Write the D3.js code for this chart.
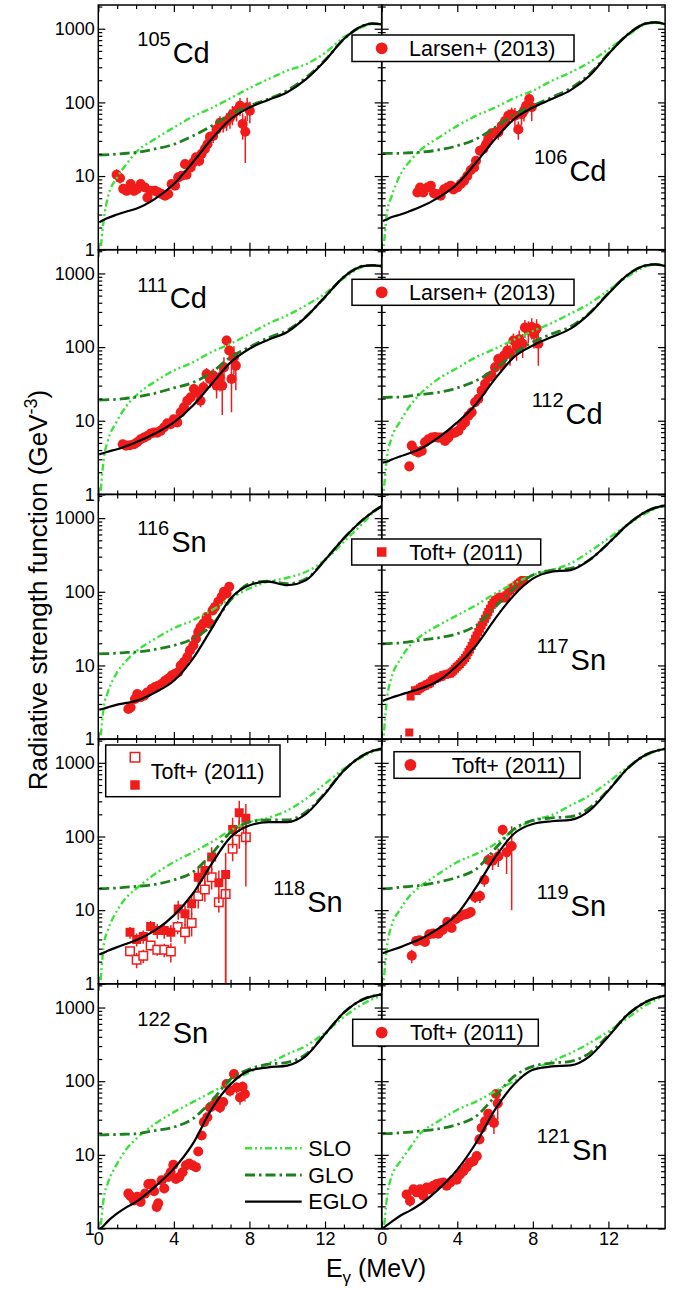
<!DOCTYPE html>
<html>
<head>
<meta charset="utf-8">
<script src="https://cdn.jsdelivr.net/npm/d3@7"></script>
<style>
body { margin: 0; background: #fff; }
svg { font-family: "Liberation Sans", Arial, sans-serif; }
</style>
</head>
<body>
<svg id="chart" width="683" height="1289"></svg>
<script>
const gridE = [0.05, 0.3, 0.5, 1, 1.5, 2, 3, 4, 5, 6, 7, 8, 9, 10, 11, 12, 13, 14, 14.5, 15];

// model curves, GeV^-3, one value per gridE point
const slo105Cd  = [0.6, 2.7, 5.1, 9.6, 14.6, 21, 31.8, 45.7, 64, 84, 114, 156, 207, 270, 331, 470, 770, 1060, 1170, 1140];
const glo105Cd  = [19.3, 19.4, 19.5, 19.9, 20.4, 21, 23.3, 27, 35, 48, 69, 90, 111, 145, 218, 375, 724, 1097, 1175, 1150];
const eglo105Cd = [2.35, 2.55, 2.7, 3.0, 3.3, 3.6, 4.9, 7.8, 15.3, 31.8, 59, 85, 108, 137, 207, 368, 724, 1097, 1175, 1150];

const slo106Cd  = [0.7, 3.4, 5.1, 10.6, 16, 22, 33, 48, 66, 85, 114, 144, 196, 256, 350, 530, 800, 1160, 1200, 1150];
const glo106Cd  = [20.3, 20.3, 20.3, 20.4, 20.7, 21, 22.6, 25.8, 31.8, 45.7, 68, 90, 117, 156, 242, 460, 828, 1180, 1220, 1150];
const eglo106Cd = [2.45, 2.6, 2.75, 3.0, 3.35, 3.76, 5.1, 7.8, 15.3, 31.8, 59, 85, 111, 147, 230, 453, 828, 1180, 1220, 1150];

const slo111Cd  = [0.6, 3.2, 5.3, 10, 16, 22, 34, 48, 62, 86, 111, 151, 208, 270, 370, 533, 860, 1230, 1290, 1260];
const glo111Cd  = [19.1, 19.2, 19.3, 19.5, 20.2, 21, 23.6, 27.9, 33, 45.5, 73, 100, 134, 169, 260, 480, 900, 1260, 1290, 1260];
const eglo111Cd = [3.5, 3.65, 3.8, 4.1, 4.55, 5.1, 6.7, 9.5, 16, 31.6, 62, 95, 126, 160, 257, 480, 900, 1260, 1290, 1260];

const slo112Cd  = [0.7, 3.5, 5.6, 10, 16, 22.6, 37, 52, 73, 95, 126, 165, 212, 285, 390, 590, 900, 1250, 1320, 1260];
const glo112Cd  = [20.8, 20.8, 20.9, 21, 21.7, 22.6, 24.3, 27.9, 35, 50.6, 81, 117, 151, 190, 290, 540, 950, 1290, 1330, 1260];
const eglo112Cd = [2.7, 2.8, 2.95, 3.3, 3.65, 4.1, 5.9, 9.5, 16.9, 37, 73, 105, 137, 178, 285, 533, 950, 1290, 1330, 1260];

const slo116Sn  = [0.6, 2.85, 4.3, 8.1, 11.7, 15.5, 23, 32, 41, 56, 81, 111, 137, 155, 187, 270, 480, 850, 1150, 1450];
const glo116Sn  = [14.4, 14.5, 14.5, 14.7, 15, 15.2, 16.5, 18.7, 23, 35, 77, 129, 140, 129, 150, 271, 533, 950, 1200, 1450];
const eglo116Sn = [2.5, 2.6, 2.7, 2.94, 3.1, 3.3, 4.3, 6.2, 12.3, 31.6, 81, 123, 137, 123, 144, 271, 533, 950, 1200, 1450];

const slo117Sn  = [0.7, 3.9, 6.6, 12.3, 18.7, 24.3, 35, 48, 66, 95, 129, 169, 197, 243, 351, 533, 810, 1170, 1350, 1450];
const glo117Sn  = [19.7, 19.8, 19.9, 20.2, 21, 21.9, 23.7, 27, 35, 62, 111, 169, 197, 208, 271, 457, 810, 1230, 1390, 1490];
const eglo117Sn = [3.3, 3.5, 3.65, 4.0, 4.4, 4.8, 6.2, 10, 18.7, 43, 90, 151, 187, 197, 271, 457, 810, 1230, 1390, 1490];

const slo118Sn  = [0.6, 3.5, 5.3, 9.9, 15, 19.5, 31, 45, 61, 84, 121, 157, 179, 225, 325, 519, 830, 1210, 1400, 1550];
const glo118Sn  = [19.5, 19.6, 19.7, 20, 20.5, 21, 22.3, 25.8, 32.8, 58, 114, 157, 168, 168, 215, 390, 787, 1260, 1450, 1550];
const eglo118Sn = [2.5, 2.65, 2.8, 3.15, 3.5, 3.9, 5.3, 8.5, 16.7, 42.6, 98, 141, 157, 157, 203, 380, 787, 1260, 1450, 1550];

const slo119Sn  = [0.7, 3.5, 5.9, 10.4, 15.8, 20.5, 31, 45, 58, 79, 121, 165, 195, 264, 360, 550, 870, 1260, 1430, 1550];
const glo119Sn  = [19.5, 19.6, 19.8, 20.5, 21, 21.6, 24, 28, 36, 68, 126, 165, 179, 186, 245, 430, 830, 1300, 1450, 1550];
const eglo119Sn = [2.6, 2.75, 2.85, 3.15, 3.55, 4.0, 5.6, 8.9, 20.5, 52, 109, 148, 161, 168, 225, 420, 830, 1300, 1450, 1550];

const slo122Sn  = [0.6, 2.7, 4.1, 7.6, 12.1, 16.5, 26.3, 38, 52, 71, 97, 132, 174, 233, 302, 458, 746, 1120, 1300, 1440];
const glo122Sn  = [18.7, 18.7, 18.8, 18.9, 19.1, 19.3, 21.4, 23.8, 30.9, 54, 107, 146, 170, 180, 233, 436, 855, 1290, 1420, 1510];
const eglo122Sn = [0.97, 1.1, 1.25, 1.6, 1.95, 2.3, 3.7, 6.5, 14.1, 42, 91, 139, 154, 163, 221, 436, 855, 1290, 1420, 1510];

const slo121Sn  = [0.6, 2.9, 4.9, 8.2, 12.5, 18.9, 28.6, 41, 53, 73, 100, 143, 186, 241, 329, 473, 716, 1085, 1270, 1450];
const glo121Sn  = [19.3, 19.4, 19.5, 19.9, 20.4, 21, 22.5, 25.8, 33.5, 62, 116, 159, 176, 186, 241, 420, 795, 1200, 1350, 1450];
const eglo121Sn = [1.0, 1.12, 1.22, 1.5, 1.75, 2.1, 3.4, 6.3, 14.6, 41, 90, 143, 159, 164, 217, 405, 795, 1200, 1350, 1450];

// measured points: [E (MeV), f (GeV^-3), error]
const larsen105Cd = [[0.97,10.4,2],[1.15,9.4,1.5],[1.32,6.7,1],[1.5,6.3,0.8],[1.71,7.8,1],[1.89,6.3,0.8],[2.06,6.7,0.8],[2.24,7.8,0.9],[2.47,7.0,0.8],[2.6,5.1,0.6],[2.77,6.3,0.7],[3.0,6.3,0.7],[3.17,6.0,0.7],[3.35,5.7,0.6],[3.53,5.4,0.6],[3.7,5.7,0.6],[3.88,7.8,0.8],[4.06,7.4,0.8],[4.23,9.6,1],[4.41,10.1,1.2],[4.59,14.5,1.8],[4.67,10.4,1.3],[4.89,13.1,1.8],[5.03,15.3,2],[5.17,17.9,2.5],[5.34,16.1,2.5],[5.47,20,3],[5.64,23.3,4],[5.78,27,5],[5.91,34,6],[6.08,35,7],[6.26,43,9],[6.44,53,12],[6.61,51,12],[6.79,56,15],[6.97,62,18],[7.1,69,20],[7.32,77,22],[7.5,90,25],[7.64,51,20],[7.78,40,25],[7.88,86,30],[8.02,77,25]];
const larsen106Cd = [[1.89,6.0,0.8],[2.03,7.0,0.9],[2.2,6.0,0.7],[2.42,7.0,0.8],[2.6,7.4,0.8],[2.77,5.8,0.6],[2.91,5.7,0.6],[3.12,5.4,0.6],[3.3,6.6,0.7],[3.47,7.0,0.7],[3.65,7.4,0.8],[3.79,6.6,0.7],[4.0,7.0,0.8],[4.18,7.8,0.9],[4.36,8.6,1],[4.53,10,1.2],[4.71,12,1.5],[4.89,13.1,1.7],[4.99,16.1,2],[5.2,22,3],[5.38,23.3,3],[5.52,27,4],[5.64,31.8,5],[5.82,38,6],[6.0,39,7],[6.17,39,8],[6.35,48,10],[6.53,56,12],[6.7,66,14],[6.88,69,16],[7.05,66,18],[7.23,43,12],[7.4,69,20],[7.53,77,22],[7.64,90,25],[7.81,111,30],[7.94,86,30]];
const larsen111Cd = [[1.29,4.8,0.5],[1.46,4.6,0.5],[1.68,4.65,0.5],[1.89,4.8,0.5],[2.06,5.1,0.5],[2.24,5.6,0.6],[2.42,5.9,0.6],[2.59,6.2,0.6],[2.77,6.7,0.7],[2.95,6.9,0.7],[3.12,6.9,0.7],[3.3,7.3,0.8],[3.47,8.1,0.9],[3.65,9.2,1],[3.83,9.0,1],[4.0,10.5,1.2],[4.18,9.5,1.2],[4.36,13,1.6],[4.53,15.2,2],[4.71,18.7,2.5],[4.89,20.8,3],[5.06,27,4],[5.24,24.3,4],[5.41,18.7,3.5],[5.56,28.4,6],[5.73,43,9],[5.91,37,9],[6.08,41,10],[6.26,30,10],[6.44,39,14],[6.56,30,18],[6.65,53,20],[6.79,123,20],[6.93,90,25],[7.05,37,24],[7.18,73,30],[7.28,56,30]];
const larsen112Cd = [[1.46,2.4,0.3],[1.59,4.6,0.5],[1.76,3.9,0.4],[1.94,3.7,0.4],[2.12,3.9,0.4],[2.29,5.1,0.5],[2.47,5.6,0.5],[2.65,5.9,0.6],[2.82,6.0,0.6],[3.0,5.9,0.6],[3.17,5.9,0.6],[3.35,5.3,0.6],[3.53,5.9,0.6],[3.7,6.7,0.7],[3.88,6.9,0.8],[4.06,7.3,0.8],[4.23,8.5,1],[4.41,9.5,1.1],[4.59,11.7,1.4],[4.76,13,1.6],[4.94,17.8,2.2],[5.11,19.8,2.5],[5.29,25.6,3.5],[5.47,31.6,4.5],[5.64,39,6],[5.82,41,7],[6.0,53,9],[6.17,69,12],[6.31,60,14],[6.47,77,18],[6.65,90,22],[6.79,81,25],[6.97,123,30],[7.14,100,35],[7.28,128,40],[7.46,111,40],[7.58,184,50],[7.76,169,55],[7.94,187,60],[8.06,151,55],[8.2,178,60],[8.29,111,55]];
const toft116Sn = [[1.59,2.56,0.2],[1.71,2.7,0.2],[1.94,3.5,0.3],[2.06,4.1,0.3],[2.24,3.7,0.3],[2.42,3.9,0.3],[2.59,4.3,0.3],[2.82,4.8,0.4],[3.0,5.1,0.4],[3.17,5.3,0.4],[3.35,5.6,0.4],[3.53,6.2,0.5],[3.7,6.6,0.5],[3.88,7.3,0.5],[4.06,7.7,0.6],[4.23,8.1,0.6],[4.36,10,0.8],[4.53,11.1,0.9],[4.71,13,1],[4.85,16,1.2],[5.03,18.7,1.5],[5.17,23,2],[5.29,28.4,2.5],[5.41,33,3],[5.56,37,3.5],[5.73,45.5,4],[5.91,37,4],[6.05,56,5],[6.17,62,6],[6.35,73,7],[6.53,86,8],[6.65,100,9],[6.79,95,9],[6.93,117,11]];
const toft117Sn = [[1.46,1.23,0.1],[1.53,3.8,0.3],[1.76,4.6,0.3],[1.85,4.5,0.3],[1.94,4.7,0.3],[2.03,4.9,0.3],[2.12,5.1,0.4],[2.2,5.2,0.4],[2.29,5.3,0.4],[2.38,5.5,0.4],[2.47,5.6,0.4],[2.56,5.8,0.4],[2.65,6.2,0.4],[2.73,6.5,0.5],[2.82,6.6,0.5],[2.91,6.7,0.5],[3.0,6.9,0.5],[3.09,7.0,0.5],[3.17,7.1,0.5],[3.26,7.4,0.5],[3.35,7.5,0.5],[3.44,7.6,0.5],[3.53,7.7,0.5],[3.62,7.8,0.5],[3.7,8.1,0.6],[3.79,8.5,0.6],[3.88,9.0,0.6],[3.97,9.5,0.7],[4.06,10,0.7],[4.14,10.5,0.7],[4.23,11.1,0.8],[4.32,11.8,0.8],[4.41,12.6,0.9],[4.5,13.8,1],[4.59,15.2,1.1],[4.67,16.5,1.2],[4.76,18.3,1.3],[4.85,20.5,1.5],[4.94,23,1.6],[5.02,25.5,1.8],[5.11,28.4,2],[5.2,31.5,2.2],[5.29,35,2.5],[5.38,39,2.8],[5.47,43,3],[5.56,48,3.5],[5.64,53,4],[5.73,59,4.5],[5.82,66,5],[5.91,71,5.5],[6.0,77,6],[6.08,78,6],[6.17,81,6],[6.26,84,7],[6.35,86,7],[6.44,84,7],[6.53,81,7],[6.61,90,8],[6.7,100,8],[6.79,105,9],[6.88,111,9],[6.97,114,10],[7.05,117,10],[7.14,123,11],[7.23,129,11],[7.32,134,12],[7.4,139,12],[7.47,142,13],[7.53,144,13]];
const toft118SnFilled = [[1.68,5.0,0.9],[2.03,4.0,0.8],[2.38,4.4,0.9],[2.77,6.0,1.1],[3.12,5.3,1.2],[3.49,5.3,1.2],[3.84,5.0,1.3],[4.23,10.4,3],[4.59,8.9,2.7],[4.94,12.2,3.6],[5.29,28,10],[5.64,34.5,13],[6.0,52.5,19],[6.38,23.5,11],[6.74,30.5,29.6],[7.11,124,55],[7.46,210,95],[7.81,177,100]];
const toft118SnOpen = [[1.68,2.77,0.4],[2.03,2.12,0.5],[2.38,2.4,0.5],[2.77,3.3,0.5],[3.12,2.9,0.5],[3.49,2.9,0.6],[3.84,2.75,0.8],[4.2,5.9,1.2],[4.59,5.0,1.5],[4.94,6.7,2.3],[5.29,15.5,5],[5.64,19,6],[6.0,28,9],[6.38,12.8,3.5],[6.74,16.6,15.6],[7.11,68,22],[7.46,118,50],[7.81,98,77]];
const toft119Sn = [[1.59,2.4,0.5],[1.82,3.8,0.4],[2.0,3.9,0.4],[2.29,3.7,0.4],[2.52,4.7,0.5],[2.73,4.8,0.5],[3.0,4.8,0.5],[3.23,5.4,0.6],[3.47,6.9,0.7],[3.7,5.75,0.7],[3.93,7.6,0.9],[4.14,8.2,1],[4.36,8.7,1.1],[4.53,8.9,1.2],[4.71,9.4,1.4],[4.94,15,2.5],[5.2,15.5,3],[5.43,25.8,5],[5.64,48,10],[5.87,47,12],[6.17,53.5,15],[6.4,123,20],[6.61,61,30],[6.88,74,64]];
const toft122Sn = [[1.59,2.98,0.3],[1.71,2.74,0.3],[1.89,2.4,0.3],[2.06,2.7,0.3],[2.24,2.3,0.3],[2.47,2.98,0.3],[2.65,4.0,0.4],[2.82,4.06,0.4],[2.95,3.2,0.4],[3.09,1.96,0.3],[3.17,2.2,0.3],[3.35,4.5,0.5],[3.49,3.5,0.5],[3.7,5.0,0.5],[3.83,5.8,0.6],[3.97,7.3,0.7],[4.11,4.7,0.5],[4.29,5.0,0.6],[4.46,5.8,0.7],[4.64,7.2,0.8],[4.81,7.6,0.9],[4.99,7.2,0.9],[5.17,6.8,0.9],[5.29,11.1,1.3],[5.47,18.3,2],[5.59,27.8,3],[5.77,32.4,4],[5.91,44,5],[6.08,46.6,6],[6.26,54.5,7],[6.44,44,7],[6.61,52,8],[6.79,91.6,12],[6.97,74,12],[7.18,125,15],[7.32,82,14],[7.5,60,12],[7.64,84,15],[7.76,67,14]];
const toft121Sn = [[1.32,2.9,0.4],[1.5,2.37,0.4],[1.68,3.4,0.4],[1.85,3.1,0.4],[2.03,3.4,0.4],[2.2,2.8,0.4],[2.38,3.6,0.4],[2.56,3.4,0.4],[2.73,3.8,0.4],[2.91,4.0,0.4],[3.09,4.1,0.4],[3.26,4.2,0.4],[3.44,3.8,0.4],[3.62,4.2,0.5],[3.79,4.6,0.5],[3.97,4.6,0.5],[4.14,5.4,0.6],[4.32,6.0,0.7],[4.5,6.8,0.8],[4.67,7.8,0.9],[4.85,8.2,1],[5.03,9.6,1.2],[5.17,16.2,2],[5.29,23.2,3],[5.47,28.6,4],[5.64,36,5],[5.77,30,6],[5.94,27.2,8],[6.05,67,8],[6.14,50,20]];

const yMajor = [1, 10, 100, 1000];
const xMajor = [0, 4, 8, 12];
const modelNames = ["SLO", "GLO", "EGLO"];

// layout
const X0 = [98.3, 381.7], PW = 283.4, TOP = 5, PH = 244.7, Y_MAX = 2100;
const RED = "#f01c1c";
const lineStyle = {
  slo:  {color: "#3ce23c", width: 2.4, dash: "7,3,2,3,2,3"},
  glo:  {color: "#1f801f", width: 2.8, dash: "10,4,2.5,4"},
  eglo: {color: "#000",    width: 2.2, dash: null}
};

const circle = {shape: d3.symbolCircle, size: 80, open: false};
const square = {shape: d3.symbolSquare, size: 64, open: false};
const squareBig = {shape: d3.symbolSquare, size: 81, open: false};
const squareOpen = {shape: d3.symbolSquare, size: 72, open: true};

const panels = [
  {mass:"105", el:"Cd", row:0, col:0, lx:39,    ly:57.7,  slo:slo105Cd, glo:glo105Cd, eglo:eglo105Cd, sets:[[larsen105Cd, circle]]},
  {mass:"106", el:"Cd", row:0, col:1, lx:152.3, ly:175.7, slo:slo106Cd, glo:glo106Cd, eglo:eglo106Cd, sets:[[larsen106Cd, circle]]},
  {mass:"111", el:"Cd", row:1, col:0, lx:39,    ly:58.6,  slo:slo111Cd, glo:glo111Cd, eglo:eglo111Cd, sets:[[larsen111Cd, circle]]},
  {mass:"112", el:"Cd", row:1, col:1, lx:150,   ly:174.3, slo:slo112Cd, glo:glo112Cd, eglo:eglo112Cd, sets:[[larsen112Cd, circle]]},
  {mass:"116", el:"Sn", row:2, col:0, lx:39,    ly:57.3,  slo:slo116Sn, glo:glo116Sn, eglo:eglo116Sn, sets:[[toft116Sn, circle]]},
  {mass:"117", el:"Sn", row:2, col:1, lx:155,   ly:175.6, slo:slo117Sn, glo:glo117Sn, eglo:eglo117Sn, sets:[[toft117Sn, square]]},
  {mass:"118", el:"Sn", row:3, col:0, lx:175,   ly:172.6, slo:slo118Sn, glo:glo118Sn, eglo:eglo118Sn, sets:[[toft118SnOpen, squareOpen], [toft118SnFilled, squareBig]]},
  {mass:"119", el:"Sn", row:3, col:1, lx:155,   ly:176.6, slo:slo119Sn, glo:glo119Sn, eglo:eglo119Sn, sets:[[toft119Sn, circle]]},
  {mass:"122", el:"Sn", row:4, col:0, lx:39,    ly:58.9,  slo:slo122Sn, glo:glo122Sn, eglo:eglo122Sn, sets:[[toft122Sn, circle]]},
  {mass:"121", el:"Sn", row:4, col:1, lx:155,   ly:176.2, slo:slo121Sn, glo:glo121Sn, eglo:eglo121Sn, sets:[[toft121Sn, circle]]}
];

// legend boxes, relative to the panel they belong to
const legends = [
  {panel:1, bx:-29.7, by:30,   bw:222,   bh:26.5, tx:27.3, ty:13.3, text:"Larsen+ (2013)", marks:[[0, 13.3, circle]]},
  {panel:3, bx:-29.7, by:29.6, bw:222,   bh:26,   tx:27.3, ty:13,   text:"Larsen+ (2013)", marks:[[0, 13, circle]]},
  {panel:5, bx:-30,   by:44.6, bw:189,   bh:26,   tx:27.6, ty:13,   text:"Toft+ (2011)",   marks:[[0, 13, square]]},
  {panel:6, bx:7.4,   by:5.9,  bw:174.3, bh:51.7, tx:52.4, ty:26.7, text:"Toft+ (2011)",   marks:[[36.7, 12.3, squareOpen], [36.7, 40, squareBig]]},
  {panel:7, bx:12.3,  by:12.6, bw:186,   bh:26.6, tx:70,   ty:13.3, text:"Toft+ (2011)",   marks:[[28.7, 13.3, circle]]},
  {panel:9, bx:-29,   by:35.5, bw:185.6, bh:26.7, tx:28.3, ty:13.3, text:"Toft+ (2011)",   marks:[[0, 13.3, circle]]}
];

const svg = d3.select("#chart");
const defs = svg.append("defs");

function drawMark(sel, m) {
  return sel.attr("d", d3.symbol().type(m.shape).size(m.size)())
    .attr("fill", m.open ? "#fff" : RED)
    .attr("stroke", m.open ? RED : "none")
    .attr("stroke-width", 1.5);
}

const yMinor = [];
yMajor.forEach(dec => { for (let m = 2; m <= 9; m++) if (m * dec < Y_MAX) yMinor.push(m * dec); });
const xMinor = d3.range(1, 15).filter(v => !xMajor.includes(v));

panels.forEach((p, idx) => {
  const x0 = X0[p.col], y0 = TOP + p.row * PH;
  const x = d3.scaleLinear().domain([0, 15]).range([x0, x0 + PW]);
  const y = d3.scaleLog().domain([1, Y_MAX]).range([y0 + PH, y0]);
  p.x0 = x0; p.y0 = y0;

  defs.append("clipPath").attr("id", "clip" + idx)
    .append("rect").attr("x", x0).attr("y", y0).attr("width", PW).attr("height", PH);

  const plot = svg.append("g").attr("clip-path", `url(#clip${idx})`);

  // data with error bars
  p.sets.forEach(([data, m]) => {
    plot.append("g").selectAll("line").data(data).join("line")
      .attr("x1", d => x(d[0])).attr("x2", d => x(d[0]))
      .attr("y1", d => y(Math.max(d[1] - d[2], 0.5)))
      .attr("y2", d => y(d[1] + d[2]))
      .attr("stroke", RED).attr("stroke-width", 1.5);
    plot.append("g").selectAll("path").data(data).join("path")
      .attr("transform", d => `translate(${x(d[0])},${y(d[1])})`)
      .call(sel => drawMark(sel, m));
  });

  // model curves
  const line = d3.line().x(d => x(d[0])).y(d => y(d[1])).curve(d3.curveMonotoneX);
  ["slo", "glo", "eglo"].forEach(k => {
    const st = lineStyle[k];
    plot.append("path")
      .datum(gridE.map((e, i) => [e, p[k][i]]))
      .attr("d", line)
      .attr("fill", "none")
      .attr("stroke", st.color)
      .attr("stroke-width", st.width)
      .attr("stroke-dasharray", st.dash);
  });

  // axes, ticks pointing inward on all four sides
  const ax = svg.append("g");
  function addAxis(axis, tx, ty) {
    const a = ax.append("g").attr("transform", `translate(${tx},${ty})`).call(axis);
    a.select(".domain").remove();
    a.attr("font-size", 18).attr("font-family", null);
    a.selectAll("line").attr("stroke-width", 1.2);
    a.selectAll("text").attr("fill", "#000");
    return a;
  }
  const none = () => "";
  addAxis(d3.axisLeft(y).tickValues(yMajor).tickSizeInner(-7).tickSizeOuter(0).tickPadding(3.5)
    .tickFormat(p.col === 0 ? d3.format("d") : none), x0, 0);
  addAxis(d3.axisLeft(y).tickValues(yMinor).tickSizeInner(-4).tickSizeOuter(0).tickFormat(none), x0, 0);
  addAxis(d3.axisRight(y).tickValues(yMajor).tickSizeInner(-7).tickSizeOuter(0).tickFormat(none), x0 + PW, 0);
  addAxis(d3.axisRight(y).tickValues(yMinor).tickSizeInner(-4).tickSizeOuter(0).tickFormat(none), x0 + PW, 0);
  addAxis(d3.axisBottom(x).tickValues(xMajor).tickSizeInner(-7).tickSizeOuter(0).tickPadding(4)
    .tickFormat(p.row === 4 ? d3.format("d") : none), 0, y0 + PH);
  addAxis(d3.axisBottom(x).tickValues(xMinor).tickSizeInner(-4).tickSizeOuter(0).tickFormat(none), 0, y0 + PH);
  addAxis(d3.axisTop(x).tickValues(xMajor).tickSizeInner(-7).tickSizeOuter(0).tickFormat(none), 0, y0);
  addAxis(d3.axisTop(x).tickValues(xMinor).tickSizeInner(-4).tickSizeOuter(0).tickFormat(none), 0, y0);

  svg.append("rect").attr("x", x0).attr("y", y0).attr("width", PW).attr("height", PH)
    .attr("fill", "none").attr("stroke", "#000").attr("stroke-width", 1.5);

  // isotope label
  const t = svg.append("text").attr("x", x0 + p.lx).attr("y", y0 + p.ly).attr("fill", "#000");
  t.append("tspan").attr("font-size", 20).attr("dy", -16.7).text(p.mass);
  t.append("tspan").attr("font-size", 29).attr("dy", 16.7).attr("dx", 2).text(p.el);
});

// legend boxes (drawn on top, white filled)
legends.forEach(l => {
  const p = panels[l.panel];
  const g = svg.append("g").attr("transform", `translate(${p.x0 + l.bx},${p.y0 + l.by})`);
  g.append("rect").attr("width", l.bw).attr("height", l.bh)
    .attr("fill", "#fff").attr("stroke", "#000").attr("stroke-width", 1.5);
  l.marks.forEach(([mx, my, m]) => {
    g.append("path").attr("transform", `translate(${mx - l.bx},${my})`)
      .call(sel => drawMark(sel, {shape: m.shape, size: m.shape === d3.symbolCircle ? 110 : 90, open: m.open}));
  });
  g.append("text").attr("x", l.tx - l.bx).attr("y", l.ty + 7.6)
    .attr("font-size", 21.5).attr("fill", "#000").text(l.text);
});

// model legend inside the 122Sn panel
const pm = panels[8];
["slo", "glo", "eglo"].forEach((k, i) => {
  const st = lineStyle[k];
  const yy = pm.y0 + 164.5 + i * 26.7;
  svg.append("line").attr("x1", pm.x0 + 146.7).attr("x2", pm.x0 + 203.4).attr("y1", yy).attr("y2", yy)
    .attr("stroke", st.color).attr("stroke-width", st.width).attr("stroke-dasharray", st.dash);
  svg.append("text").attr("x", pm.x0 + 210).attr("y", yy + 7.6)
    .attr("font-size", 21.5).attr("fill", "#000").text(modelNames[i]);
});

// axis titles
const xt = svg.append("text").attr("x", 376).attr("y", 1276.7).attr("text-anchor", "middle")
  .attr("font-size", 25).attr("fill", "#000");
xt.append("tspan").text("E");
xt.append("tspan").attr("font-size", 17).attr("dy", 6).text("\u03b3");
xt.append("tspan").attr("dy", -6).text(" (MeV)");

const yt = svg.append("text").attr("transform", "translate(46.5,590) rotate(-90)")
  .attr("text-anchor", "middle").attr("font-size", 26).attr("fill", "#000");
yt.append("tspan").text("Radiative strength function (GeV");
yt.append("tspan").attr("font-size", 18).attr("dy", -10).text("-3");
yt.append("tspan").attr("dy", 10).text(")");
</script>
</body>
</html>
